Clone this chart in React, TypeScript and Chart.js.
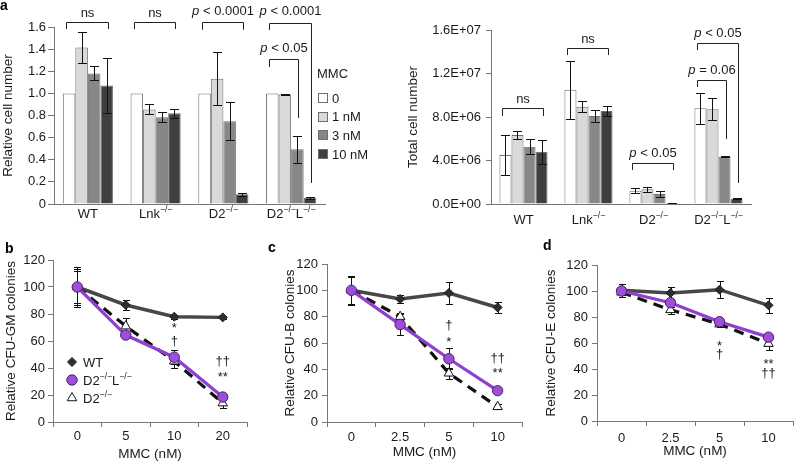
import React, { useEffect, useRef } from 'react';
import { Chart, registerables } from 'chart.js';

Chart.register(...registerables);

const FONT = "'Liberation Sans', Arial, Helvetica, sans-serif";
const TXT = '#1a1a1a';
const AXIS = '#777777';
Chart.defaults.font.family = FONT;
Chart.defaults.font.size = 13;
Chart.defaults.color = TXT;

// ---------------- Panel a (bar charts) ----------------
const genotypes = ['WT', 'Lnk^{−/−}', 'D2^{−/−}', 'D2^{−/−}L^{−/−}'];
const mmcDoses = ['0', '1 nM', '3 nM', '10 nM'];
const doseColors = ['#ffffff', '#d9d9d9', '#878787', '#3f3f3f'];

const relative0 = [1.0, 1.0, 1.0, 1.0];
const relative1 = [1.415, 0.855, 1.133, 0.99];
const relative3 = [1.18, 0.784, 0.748, 0.494];
const relative10 = [1.072, 0.82, 0.088, 0.055];
const relErr0 = [0, 0, 0, 0];
const relErr1 = [0.14, 0.045, 0.238, 0.008];
const relErr3 = [0.063, 0.045, 0.172, 0.12];
const relErr10 = [0.25, 0.042, 0.012, 0.006];

const total0 = [4.5e6, 10.5e6, 1.22e6, 8.8e6];
const total1 = [6.34e6, 8.95e6, 1.35e6, 8.72e6];
const total3 = [5.27e6, 8.1e6, 0.92e6, 4.35e6];
const total10 = [4.8e6, 8.55e6, 0.1e6, 0.48e6];
const totErr0 = [1.8e6, 2.65e6, 0.25e6, 1.4e6];
const totErr1 = [0.33e6, 0.5e6, 0.25e6, 1.03e6];
const totErr3 = [0.7e6, 0.55e6, 0.3e6, 0.05e6];
const totErr10 = [1.1e6, 0.45e6, 0.03e6, 0.05e6];

const relBrackets = [
  { g: 0, from: 0, to: 3, top: 1.646, leftEnd: 1.582, rightEnd: 1.582, label: 'ns', labelY: 1.733 },
  { g: 1, from: 0, to: 3, top: 1.646, leftEnd: 1.582, rightEnd: 1.582, label: 'ns', labelY: 1.733 },
  { g: 2, from: 0, to: 3, top: 1.646, leftEnd: 1.575, rightEnd: 1.575, label: '_{p} < 0.0001', labelY: 1.751 },
  { g: 3, from: 0, to: 3, top: 1.637, leftEnd: 1.573, rightEnd: 0.19, label: '_{p} < 0.0001', labelY: 1.751 },
  { g: 3, from: 0, to: 2, top: 1.311, leftEnd: 1.239, rightEnd: 0.778, label: '_{p} < 0.05', labelY: 1.42 },
];
const totBrackets = [
  { g: 0, from: 0, to: 3, top: 8.83e6, leftEnd: 8.09e6, rightEnd: 8.09e6, label: 'ns', labelY: 9.69e6 },
  { g: 1, from: 0, to: 3, top: 14.34e6, leftEnd: 13.7e6, rightEnd: 13.7e6, label: 'ns', labelY: 15.26e6 },
  { g: 2, from: 0, to: 3, top: 3.77e6, leftEnd: 3.13e6, rightEnd: 3.13e6, label: '_{p} < 0.05', labelY: 4.78e6 },
  { g: 3, from: 0, to: 3, top: 14.8e6, leftEnd: 14.16e6, rightEnd: 1.93e6, label: '_{p} < 0.05', labelY: 15.76e6 },
  { g: 3, from: 0, to: 2, top: 11.4e6, leftEnd: 10.76e6, rightEnd: 5.98e6, label: '_{p} = 0.06', labelY: 12.39e6 },
];

// ---------------- Panels b, c, d (colony assays) ----------------
const gmDoses = ['0', '5', '10', '20'];
const gmWT = [100, 86.7, 78, 77.5];
const gmWTErr = [15, 4, 1.5, 1.2];
const gmDL = [100, 64.4, 48, 18.5];
const gmDLErr = [13, 2, 5, 2];
const gmD2 = [100, 71, 45, 14];
const gmD2Err = [12, 6, 5, 3.5];
const gmMarks = [
  { i: 2, v: 70, t: '*' },
  { i: 2, v: 60.5, t: '†' },
  { i: 3, v: 46, t: '††' },
  { i: 3, v: 34, t: '**' },
];

const bDoses = ['0', '2.5', '5', '10'];
const bWT = [100, 93.4, 98, 87];
const bWTErr = [10.6, 3, 8.5, 4];
const bDL = [100, 74, 48, 23.8];
const bDLErr = [11, 8, 8, 1];
const bD2 = [100, 80, 37, 11.5];
const bD2Err = [10, 3, 4, 2];
const bMarks = [
  { i: 2, v: 74.4, t: '†' },
  { i: 2, v: 61.5, t: '*' },
  { i: 3, v: 49.4, t: '††' },
  { i: 3, v: 37.5, t: '**' },
];

const eDoses = ['0', '2.5', '5', '10'];
const eWT = [100.5, 98.5, 101, 89];
const eWTErr = [5, 4.5, 6.5, 6];
const eDL = [100, 91, 76.4, 64.5];
const eDLErr = [3, 3, 2, 2];
const eD2 = [99, 85.5, 74.5, 59.5];
const eD2Err = [2, 3.5, 2, 5];
const eMarks = [
  { i: 2, v: 58, t: '*' },
  { i: 2, v: 52.3, t: '†' },
  { i: 3, v: 44, t: '**' },
  { i: 3, v: 37.7, t: '††' },
];

// ---------------- rich text helpers ----------------
type Rich = { t: string; sup?: boolean; it?: boolean };
function parseRich(s: string): Rich[] {
  const out: Rich[] = [];
  const re = /([\^_])\{([^}]*)\}/g;
  let last = 0;
  let m: RegExpExecArray | null;
  while ((m = re.exec(s))) {
    if (m.index > last) out.push({ t: s.slice(last, m.index) });
    out.push(m[1] === '^' ? { t: m[2], sup: true } : { t: m[2], it: true });
    last = re.lastIndex;
  }
  if (last < s.length) out.push({ t: s.slice(last) });
  return out;
}
function richFont(p: Rich, size: number) {
  const sz = p.sup ? size * 0.66 : size;
  return `${p.it ? 'italic ' : ''}${sz}px ${FONT}`;
}
function drawRich(ctx: CanvasRenderingContext2D, s: string, x: number, cy: number, size: number, align = 'center') {
  const parts = parseRich(s);
  const widths = parts.map((p) => {
    ctx.font = richFont(p, size);
    return ctx.measureText(p.t).width;
  });
  const total = widths.reduce((a, b) => a + b, 0);
  let cx = align === 'center' ? x - total / 2 : align === 'right' ? x - total : x;
  const base = cy + size * 0.36;
  ctx.save();
  ctx.fillStyle = TXT;
  ctx.textAlign = 'left';
  ctx.textBaseline = 'alphabetic';
  parts.forEach((p, i) => {
    ctx.font = richFont(p, size);
    ctx.fillText(p.t, cx, p.sup ? base - size * 0.42 : base);
    cx += widths[i];
  });
  ctx.restore();
}

function drawMarker(ctx: CanvasRenderingContext2D, style: string, x: number, y: number, r: number, fill: string, stroke: string, lw: number) {
  ctx.save();
  ctx.beginPath();
  if (style === 'circle') {
    ctx.arc(x, y, r, 0, Math.PI * 2);
  } else if (style === 'rectRot') {
    ctx.moveTo(x - r, y);
    ctx.lineTo(x, y - r);
    ctx.lineTo(x + r, y);
    ctx.lineTo(x, y + r);
    ctx.closePath();
  } else {
    let a = 0;
    ctx.moveTo(x + Math.sin(a) * r, y - Math.cos(a) * r);
    a += (2 * Math.PI) / 3;
    ctx.lineTo(x + Math.sin(a) * r, y - Math.cos(a) * r);
    a += (2 * Math.PI) / 3;
    ctx.lineTo(x + Math.sin(a) * r, y - Math.cos(a) * r);
    ctx.closePath();
  }
  ctx.fillStyle = fill;
  ctx.fill();
  ctx.lineWidth = lw;
  ctx.strokeStyle = stroke;
  ctx.stroke();
  ctx.restore();
}

// ---------------- decoration plugin ----------------
type Decor = {
  letter?: { t: string; x: number; y: number };
  errorLayer?: 'before' | 'after';
  capHalf?: number;
  xLabels?: { labels: string[]; cy: number };
  brackets?: any[];
  marks?: { i: number; v: number; t: string }[];
  barLegend?: { x: number; title: string; titleY: number; y0: number; dy: number };
  lineLegend?: { x: number; y0: number; dy: number };
};

function drawErrors(chart: any, cfg: Decor) {
  const ctx: CanvasRenderingContext2D = chart.ctx;
  const cap = cfg.capHalf ?? 4;
  ctx.save();
  ctx.strokeStyle = '#111';
  ctx.lineWidth = 1;
  chart.data.datasets.forEach((ds: any, di: number) => {
    const errs = ds.errors as number[] | undefined;
    if (!errs) return;
    const meta = chart.getDatasetMeta(di);
    const ys = chart.scales[meta.yAxisID];
    meta.data.forEach((el: any, i: number) => {
      const e = errs[i];
      if (!e) return;
      const v = ds.data[i];
      const x = Math.round(el.x) + 0.5;
      const yT = Math.round(ys.getPixelForValue(v + e)) + 0.5;
      const yB = Math.round(ys.getPixelForValue(v - e)) + 0.5;
      ctx.beginPath();
      ctx.moveTo(x, yT);
      ctx.lineTo(x, yB);
      ctx.moveTo(x - cap, yT);
      ctx.lineTo(x + cap, yT);
      ctx.moveTo(x - cap, yB);
      ctx.lineTo(x + cap, yB);
      ctx.stroke();
    });
  });
  ctx.restore();
}

function decorPlugin(cfg: Decor) {
  return {
    id: 'decor',
    beforeDatasetsDraw(chart: any) {
      if (cfg.errorLayer === 'before') drawErrors(chart, cfg);
    },
    afterDatasetsDraw(chart: any) {
      if (cfg.errorLayer !== 'before') drawErrors(chart, cfg);
    },
    afterDraw(chart: any) {
      const ctx: CanvasRenderingContext2D = chart.ctx;
      const xs = chart.scales.x;
      const ys = chart.scales.y;
      if (cfg.xLabels) {
        cfg.xLabels.labels.forEach((l, i) => drawRich(ctx, l, xs.getPixelForValue(i), cfg.xLabels!.cy, 13));
      }
      (cfg.brackets || []).forEach((b: any) => {
        const e0 = chart.getDatasetMeta(b.from).data[b.g];
        const e1 = chart.getDatasetMeta(b.to).data[b.g];
        const x0 = Math.round(e0.x - 3) + 0.5;
        const x1 = Math.round(e1.x + 1) + 0.5;
        const yt = Math.round(ys.getPixelForValue(b.top)) + 0.5;
        ctx.save();
        ctx.strokeStyle = '#222';
        ctx.lineWidth = 1;
        ctx.beginPath();
        ctx.moveTo(x0, ys.getPixelForValue(b.leftEnd));
        ctx.lineTo(x0, yt);
        ctx.lineTo(x1, yt);
        ctx.lineTo(x1, ys.getPixelForValue(b.rightEnd));
        ctx.stroke();
        ctx.restore();
        drawRich(ctx, b.label, (x0 + x1) / 2, ys.getPixelForValue(b.labelY), 13);
      });
      (cfg.marks || []).forEach((m) => drawRich(ctx, m.t, xs.getPixelForValue(m.i), ys.getPixelForValue(m.v), 13));
      if (cfg.barLegend) {
        const L = cfg.barLegend;
        drawRich(ctx, L.title, L.x, L.titleY, 13, 'left');
        chart.data.datasets.forEach((ds: any, k: number) => {
          const cy = L.y0 + k * L.dy;
          const top = Math.round(cy - 5) + 0.5;
          ctx.save();
          ctx.fillStyle = ds.backgroundColor;
          ctx.fillRect(L.x + 1.5, top, 9, 9);
          ctx.strokeStyle = '#6e6e6e';
          ctx.lineWidth = 1;
          ctx.strokeRect(L.x + 1.5, top, 9, 9);
          ctx.restore();
          drawRich(ctx, ds.label, L.x + 15, cy, 13, 'left');
        });
      }
      if (cfg.lineLegend) {
        const L = cfg.lineLegend;
        chart.data.datasets.forEach((ds: any, k: number) => {
          const cy = L.y0 + k * L.dy;
          drawMarker(ctx, ds.pointStyle, L.x, cy, ds.pointRadius, ds.pointBackgroundColor, ds.pointBorderColor, ds.pointBorderWidth);
          drawRich(ctx, ds.label, L.x + 11, cy, 13, 'left');
        });
      }
      if (cfg.letter) {
        ctx.save();
        ctx.font = `bold 14px ${FONT}`;
        ctx.fillStyle = '#000';
        ctx.textAlign = 'left';
        ctx.textBaseline = 'alphabetic';
        ctx.fillText(cfg.letter.t, cfg.letter.x, cfg.letter.y);
        ctx.restore();
      }
    },
  };
}

type Area = { l: number; t: number; r: number; b: number };

function sci(v: number) {
  if (v === 0) return '0.0E+00';
  const e = Math.floor(Math.log10(v) + 1e-9);
  const m = v / Math.pow(10, e);
  return `${m.toFixed(1)}E+${String(e).padStart(2, '0')}`;
}

function barConfig(W: number, H: number, A: Area, p: any) {
  return {
    type: 'bar',
    data: {
      labels: genotypes,
      datasets: mmcDoses.map((d, k) => ({
        label: d,
        data: p.sets[k],
        errors: p.errs[k],
        backgroundColor: doseColors[k],
        borderColor: '#6e6e6e',
        borderWidth: 1,
        categoryPercentage: 0.74,
        barPercentage: 1,
      })),
    },
    options: {
      responsive: false,
      animation: false,
      devicePixelRatio: 1,
      layout: { padding: { top: A.t, right: W - A.r, left: 0, bottom: 0 }, autoPadding: false },
      plugins: { legend: { display: false }, tooltip: { enabled: false } },
      scales: {
        x: {
          grid: { display: false },
          border: { color: AXIS },
          ticks: { display: false },
          afterFit: (s: any) => {
            s.height = H - A.b;
          },
        },
        y: {
          min: 0,
          max: p.max,
          ticks: { stepSize: p.step, callback: p.fmt, padding: p.tickPad, color: TXT, font: { size: 13 } },
          grid: { drawOnChartArea: false, tickLength: p.tickLen, color: AXIS },
          border: { color: AXIS },
          title: { display: true, text: p.title, padding: { top: p.titlePad, bottom: 0 }, color: TXT, font: { size: 13.5 } },
          afterFit: (s: any) => {
            s.width = A.l;
          },
        },
      },
    },
    plugins: [
      decorPlugin({
        letter: p.letter,
        capHalf: 4.5,
        xLabels: { labels: genotypes, cy: p.labelCy },
        brackets: p.brackets,
        barLegend: p.legend,
      }),
    ],
  };
}

function relConfig(W: number, H: number) {
  return barConfig(W, H, { l: 54, t: 27, r: 325, b: 204 }, {
    sets: [relative0, relative1, relative3, relative10],
    errs: [relErr0, relErr1, relErr3, relErr10],
    max: 1.6,
    step: 0.2,
    fmt: (v: any) => (Number(v) === 0 ? '0' : Number(v).toFixed(1)),
    tickPad: 2,
    tickLen: 6,
    title: 'Relative cell number',
    titlePad: 0,
    letter: { t: 'a', x: 0, y: 10 },
    labelCy: 213,
    brackets: relBrackets,
    legend: { x: 317, title: 'MMC', titleY: 73, y0: 98, dy: 18.7 },
  });
}

function totConfig(W: number, H: number) {
  return barConfig(W, H, { l: 91, t: 30, r: 351, b: 204 }, {
    sets: [total0, total1, total3, total10],
    errs: [totErr0, totErr1, totErr3, totErr10],
    max: 1.6e7,
    step: 4e6,
    fmt: (v: any) => sci(Number(v)),
    tickPad: 5,
    tickLen: 5,
    title: 'Total cell number',
    titlePad: 5,
    brackets: totBrackets,
    labelCy: 219,
  });
}

function cfuConfig(W: number, H: number, A: Area, p: any) {
  return {
    type: 'line',
    data: {
      labels: p.labels,
      datasets: [
        {
          label: 'WT',
          data: p.wt,
          errors: p.wtErr,
          borderColor: '#474747',
          backgroundColor: '#2e2e2e',
          borderWidth: 3.5,
          pointStyle: 'rectRot',
          pointRadius: 4.5,
          pointBackgroundColor: '#2e2e2e',
          pointBorderColor: '#1e1e1e',
          pointBorderWidth: 1,
          tension: 0,
          order: 2,
        },
        {
          label: 'D2^{−/−}L^{−/−}',
          data: p.dl,
          errors: p.dlErr,
          borderColor: '#9040d0',
          backgroundColor: '#9d4fd9',
          borderWidth: 3.2,
          pointStyle: 'circle',
          pointRadius: 5.2,
          pointBackgroundColor: '#9d4fd9',
          pointBorderColor: '#4a2168',
          pointBorderWidth: 1,
          tension: 0,
          order: 0,
        },
        {
          label: 'D2^{−/−}',
          data: p.d2,
          errors: p.d2Err,
          borderColor: '#111111',
          backgroundColor: '#ffffff',
          borderWidth: 3.2,
          borderDash: [10, 7],
          pointStyle: 'triangle',
          pointRadius: 5.5,
          pointBackgroundColor: '#ffffff',
          pointBorderColor: '#111111',
          pointBorderWidth: 1,
          tension: 0,
          order: 1,
        },
      ],
    },
    options: {
      responsive: false,
      animation: false,
      devicePixelRatio: 1,
      layout: { padding: { top: A.t, right: W - A.r, left: 0, bottom: 0 }, autoPadding: false },
      plugins: { legend: { display: false }, tooltip: { enabled: false } },
      scales: {
        x: {
          offset: true,
          grid: { offset: true, drawOnChartArea: false, tickLength: 5, color: AXIS },
          border: { color: AXIS },
          ticks: { padding: p.xTickPad, color: TXT, font: { size: 13 } },
          title: { display: true, text: 'MMC (nM)', padding: { top: 0, bottom: p.xTitlePad }, color: TXT, font: { size: 13.5 } },
          afterFit: (s: any) => {
            s.height = H - A.b;
          },
        },
        y: {
          min: 0,
          max: 120,
          ticks: { stepSize: 20, padding: p.yTickPad, color: TXT, font: { size: 13 } },
          grid: { drawOnChartArea: false, tickLength: 5, color: AXIS },
          border: { color: AXIS },
          title: { display: true, text: p.yTitle, padding: { top: p.titlePad, bottom: 0 }, color: TXT, font: { size: 13.5 } },
          afterFit: (s: any) => {
            s.width = A.l;
          },
        },
      },
    },
    plugins: [
      decorPlugin({
        letter: p.letter,
        errorLayer: 'before',
        capHalf: 3.5,
        marks: p.marks,
        lineLegend: p.legend,
      }),
    ],
  };
}

function gmConfig(W: number, H: number) {
  return cfuConfig(W, H, { l: 53, t: 35, r: 247, b: 197 }, {
    labels: gmDoses,
    wt: gmWT, wtErr: gmWTErr, dl: gmDL, dlErr: gmDLErr, d2: gmD2, d2Err: gmD2Err,
    yTitle: 'Relative CFU-GM colonies',
    titlePad: 3,
    xTitlePad: 5.5,
    xTickPad: 2,
    yTickPad: 3,
    marks: gmMarks,
    letter: { t: 'b', x: 5, y: 28 },
    legend: { x: 72, y0: 137, dy: 18 },
  });
}
function cfubConfig(W: number, H: number) {
  return cfuConfig(W, H, { l: 62, t: 39, r: 257, b: 197 }, {
    labels: bDoses,
    wt: bWT, wtErr: bWTErr, dl: bDL, dlErr: bDLErr, d2: bD2, d2Err: bD2Err,
    yTitle: 'Relative CFU-B colonies',
    titlePad: 17,
    xTitlePad: 7.5,
    xTickPad: 3,
    yTickPad: 4,
    marks: bMarks,
    letter: { t: 'c', x: 3, y: 27 },
  });
}
function cfueConfig(W: number, H: number) {
  return cfuConfig(W, H, { l: 72, t: 40, r: 268, b: 196 }, {
    labels: eDoses,
    wt: eWT, wtErr: eWTErr, dl: eDL, dlErr: eDLErr, d2: eD2, d2Err: eD2Err,
    yTitle: 'Relative CFU-E colonies',
    titlePad: 18,
    xTitlePad: 8.5,
    xTickPad: 5,
    yTickPad: 4,
    marks: eMarks,
    letter: { t: 'd', x: 18, y: 25 },
  });
}

function ChartCanvas({ x, y, w, h, make }: { x: number; y: number; w: number; h: number; make: (w: number, h: number) => any }) {
  const ref = useRef<HTMLCanvasElement | null>(null);
  useEffect(() => {
    if (!ref.current) return;
    const chart = new Chart(ref.current, make(w, h));
    return () => chart.destroy();
  }, []);
  return <canvas ref={ref} width={w} height={h} style={{ position: 'absolute', left: x, top: y, width: w, height: h }} />;
}

export default function App() {
  return (
    <div style={{ position: 'absolute', left: 0, top: 0, width: 794, height: 468, background: '#fff', overflow: 'hidden' }}>
      <ChartCanvas x={0} y={0} w={400} h={225} make={relConfig} />
      <ChartCanvas x={400} y={0} w={394} h={225} make={totConfig} />
      <ChartCanvas x={0} y={225} w={265} h={243} make={gmConfig} />
      <ChartCanvas x={265} y={225} w={260} h={243} make={cfubConfig} />
      <ChartCanvas x={525} y={225} w={269} h={243} make={cfueConfig} />
    </div>
  );
}
